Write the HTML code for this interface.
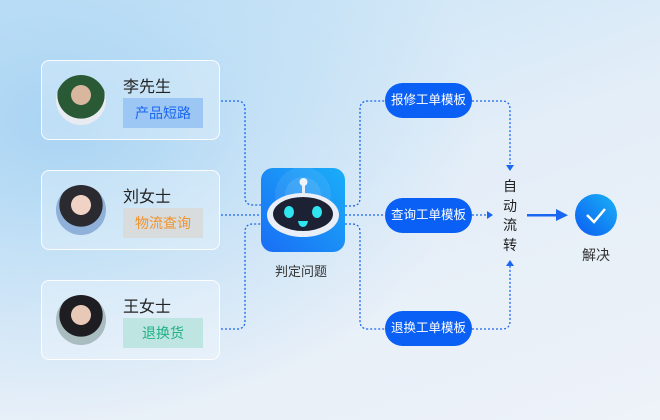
<!DOCTYPE html>
<html><head><meta charset="utf-8"><style>
body{margin:0;width:660px;height:420px;overflow:hidden;font-family:"Liberation Sans","Noto Sans CJK SC",sans-serif;
background:radial-gradient(ellipse 420px 300px at 60px 120px,#a9d4f3 0%,rgba(180,218,245,0.6) 45%,rgba(230,238,248,0) 100%),linear-gradient(160deg,#c3e2f6 0%,#e4eef8 50%,#eef2f9 100%);position:relative}
.card{position:absolute;left:41px;width:179px;height:80px;border:1.5px solid rgba(255,255,255,0.9);border-radius:8px;background:rgba(255,255,255,0.25);box-sizing:border-box}
.av{position:absolute;left:14px;top:14px;width:50px;height:50px;border-radius:50%}
.nm{position:absolute;left:81px;top:12px;font-size:16px;color:#222}
.tag{position:absolute;left:81px;top:37px;width:80px;height:30px;line-height:30px;text-align:center;font-size:14px}
.pill{position:absolute;left:385px;width:87px;height:35px;border-radius:18px;background:#0a5ff5;color:#fff;font-size:12.5px;line-height:35px;text-align:center}
.t{position:absolute;font-size:14px;color:#222}
</style></head><body>
<svg width="660" height="420" style="position:absolute;left:0;top:0">
<g fill="none" stroke="#1a66f0" stroke-width="1.3" stroke-dasharray="2 2">
<path d="M221 101 H237 Q245 101 245 109 V197 Q245 205 253 205 H261"/>
<path d="M221 215 H261"/>
<path d="M221 329 H237 Q245 329 245 321 V232 Q245 224 253 224 H261"/>
<path d="M345 206 H352 Q360 206 360 198 V109 Q360 101 368 101 H385"/>
<path d="M345 215 H385"/>
<path d="M345 224 H352 Q360 224 360 232 V321 Q360 329 368 329 H385"/>
<path d="M472 101 H502 Q510 101 510 109 V165"/>
<path d="M472 215 H488"/>
<path d="M472 329 H502 Q510 329 510 321 V265"/>
</g>
<g fill="#1a66f0">
<path d="M506 165 L514 165 L510 171Z"/>
<path d="M487 211 L493 215 L487 219Z"/>
<path d="M506 266 L514 266 L510 260Z"/>
<rect x="527" y="214" width="30" height="2.5"/>
<path d="M556 209 L568 215.2 L556 221Z"/>
</g>
<defs>
<linearGradient id="g1" x1="0" y1="1" x2="1" y2="0"><stop offset="0" stop-color="#1a6ef5"/><stop offset="1" stop-color="#1aaef8"/></linearGradient>
<linearGradient id="g2" x1="0" y1="1" x2="1" y2="0"><stop offset="0" stop-color="#0b5df2"/><stop offset="1" stop-color="#1ab2f6"/></linearGradient>
</defs>
<rect x="261" y="168" width="84" height="84" rx="12" fill="url(#g1)"/>
<circle cx="303" cy="195" r="28" fill="rgba(255,255,255,0.08)"/>
<circle cx="303" cy="195" r="18" fill="rgba(255,255,255,0.1)"/>
<rect x="302" y="183" width="3" height="10" fill="#e8eef8"/>
<circle cx="303.5" cy="182" r="4" fill="#eef3fb"/>
<ellipse cx="303" cy="215" rx="36" ry="22" fill="#e9eef7"/>
<ellipse cx="303" cy="214" rx="30" ry="17" fill="#1c2233"/>
<ellipse cx="289" cy="212" rx="5" ry="6" fill="#2fe6f0"/>
<ellipse cx="317" cy="212" rx="5" ry="6" fill="#2fe6f0"/>
<path d="M298 221 h10 q-1 6 -5 6 q-4 0 -5 -6z" fill="#2fe6f0"/>
<circle cx="596" cy="215" r="21" fill="url(#g2)"/>
<path d="M587 215 L594 222 L605 209" fill="none" stroke="#fff" stroke-width="2.5"/>
</svg>
<div class="card" style="top:60px"><div class="av" style="background:radial-gradient(circle at 50% 40%,#d9b79e 0 25%,#2a5a35 26% 60%,#e8ecf2 61%)"></div><div class="nm">李先生</div><div class="tag" style="background:#9cc7f5;color:#1a66f0">产品短路</div></div>
<div class="card" style="top:170px"><div class="av" style="background:radial-gradient(circle at 50% 40%,#f0d3c4 0 25%,#2a2a30 26% 55%,#8fb0d8 56%)"></div><div class="nm">刘女士</div><div class="tag" style="background:#d8dcdc;color:#f0922e">物流查询</div></div>
<div class="card" style="top:280px"><div class="av" style="background:radial-gradient(circle at 50% 40%,#e8c9b8 0 25%,#1e1e22 26% 55%,#a9bcc0 56%)"></div><div class="nm">王女士</div><div class="tag" style="background:#bfe5e2;color:#1fb184">退换货</div></div>
<div class="t" style="left:275px;top:261px;font-size:13px;color:#333">判定问题</div>
<div class="pill" style="top:83px">报修工单模板</div>
<div class="pill" style="top:198px">查询工单模板</div>
<div class="pill" style="top:311px">退换工单模板</div>
<div class="t" style="left:503px;top:177px;line-height:19.5px;width:14px">自<br>动<br>流<br>转</div>
<div class="t" style="left:582px;top:245px;font-size:14px;color:#333">解决</div>
</body></html>
